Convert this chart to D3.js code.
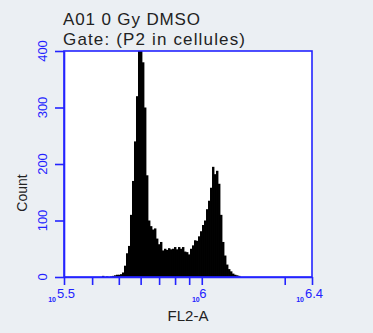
<!DOCTYPE html>
<html>
<head>
<meta charset="utf-8">
<script src="https://cdn.jsdelivr.net/npm/d3@7"></script>
<style>
  html, body { margin: 0; padding: 0; background: #ebeff3; }
  svg { display: block; font-family: "Liberation Sans", Arial, sans-serif; }
</style>
</head>
<body>
<svg id="chart" width="373" height="333"></svg>
<script>
// histogram: log10(FL2-A) of first bin and bin width, counts per bin
const binStartLog = 5.6306
const binWidthLog = 0.00726
const counts = [
  0, 2, 0, 1, 0, 1, 2, 3, 4, 4,
  5, 8, 20, 42, 55, 110, 170, 240, 320, 420,
  420, 380, 300, 180, 100, 90, 84, 86, 68, 58,
  62, 47, 50, 48, 51, 49, 50, 53, 49, 53,
  50, 53, 45, 44, 40, 50, 56, 65, 64, 72,
  81, 92, 100, 120, 135, 158, 195, 182, 188, 165,
  110, 62, 38, 22, 14, 10, 6, 4, 3, 2, 0
]
const yTicks = [0, 100, 200, 300, 400]
const xMinorTicks = [4e5, 5e5, 6e5, 7e5, 8e5, 9e5, 2e6]
const xMajorExp = ['5.5', '6', '6.4']
const titleLines = ['A01 0 Gy DMSO', 'Gate: (P2 in cellules)']

const blue = '#2323ff'
const margin = { left: 64, top: 51, right: 61, bottom: 56 }
const width = 373 - margin.left - margin.right
const height = 333 - margin.top - margin.bottom

const svg = d3.select('#chart')

const xScale = d3.scaleLog()
  .domain([Math.pow(10, 5.5), Math.pow(10, 6.4)])
  .range([0, width])
const yScale = d3.scaleLinear()
  .domain([0, 400])
  .range([height, 0])

const bins = counts.map((c, i) => ({
  x0: Math.pow(10, binStartLog + i * binWidthLog),
  x1: Math.pow(10, binStartLog + (i + 1) * binWidthLog),
  count: c
}))

svg.append('defs').append('clipPath').attr('id', 'plotclip')
  .append('rect').attr('width', width).attr('height', height)

const g = svg.append('g').attr('transform', `translate(${margin.left},${margin.top})`)

g.append('rect')
  .attr('width', width).attr('height', height)
  .attr('fill', '#ffffff')

g.append('g').attr('clip-path', 'url(#plotclip)')
  .selectAll('rect')
  .data(bins)
  .join('rect')
  .attr('x', d => xScale(d.x0))
  .attr('width', d => xScale(d.x1) - xScale(d.x0) + 0.4)
  .attr('y', d => yScale(d.count))
  .attr('height', d => height - yScale(d.count))
  .attr('fill', '#000000')

// frame
g.append('rect')
  .attr('width', width).attr('height', height)
  .attr('fill', 'none').attr('stroke', blue).attr('stroke-width', 1.6)

// axes
const allXTicks = [xScale.domain()[0], ...xMinorTicks, 1e6, xScale.domain()[1]]
const xAxis = d3.axisBottom(xScale).tickValues(allXTicks).tickSize(8).tickSizeOuter(0).tickFormat('')
const yAxis = d3.axisLeft(yScale).tickValues(yTicks).tickSize(9).tickSizeOuter(0).tickFormat('')

const xAxisGroup = g.append('g').attr('transform', `translate(0,${height})`).call(xAxis)
const yAxisGroup = g.append('g').call(yAxis)
;[xAxisGroup, yAxisGroup].forEach(ax => {
  ax.select('.domain').attr('stroke', blue).attr('stroke-width', 1.6)
  ax.selectAll('.tick line').attr('stroke', blue).attr('stroke-width', 1.6)
})

// y tick labels, rotated
g.selectAll('.ylab')
  .data(yTicks)
  .join('text')
  .attr('class', 'ylab')
  .attr('transform', d => `translate(-17,${yScale(d)}) rotate(-90)`)
  .attr('text-anchor', 'middle')
  .attr('fill', blue)
  .attr('font-size', 13)
  .text(d => d)

// x major labels: 10^exp
const majors = xMajorExp.map(e => ({ e, v: Math.pow(10, +e) }))
const lab = g.selectAll('.xlab')
  .data(majors)
  .join('g')
  .attr('class', 'xlab')
  .attr('transform', d => `translate(${xScale(d.v)},${height + 21})`)
lab.append('text')
  .attr('text-anchor', 'middle')
  .attr('x', d => d.e.length > 1 ? 2 : 1)
  .attr('fill', blue)
  .attr('font-size', 13)
  .text(d => d.e)
lab.append('text')
  .attr('text-anchor', 'end')
  .attr('x', d => d.e.length > 1 ? -8 : -2)
  .attr('y', 4)
  .attr('fill', blue)
  .attr('font-size', 7)
  .attr('font-weight', 'bold')
  .text('10')

// axis titles
svg.append('text')
  .attr('x', margin.left + width / 2)
  .attr('y', 321)
  .attr('text-anchor', 'middle')
  .attr('font-size', 15)
  .attr('fill', '#222')
  .text('FL2-A')

svg.append('text')
  .attr('transform', 'translate(26.5,193) rotate(-90)')
  .attr('text-anchor', 'middle')
  .attr('font-size', 14)
  .attr('fill', '#222')
  .text('Count')

// title
svg.selectAll('.title')
  .data(titleLines)
  .join('text')
  .attr('class', 'title')
  .attr('x', 63)
  .attr('y', (d, i) => 25 + i * 20)
  .attr('font-size', 17)
  .attr('fill', '#222')
  .attr('textLength', (d, i) => i === 0 ? 137 : 182)
  .attr('lengthAdjust', 'spacing')
  .text(d => d)
</script>
</body>
</html>
